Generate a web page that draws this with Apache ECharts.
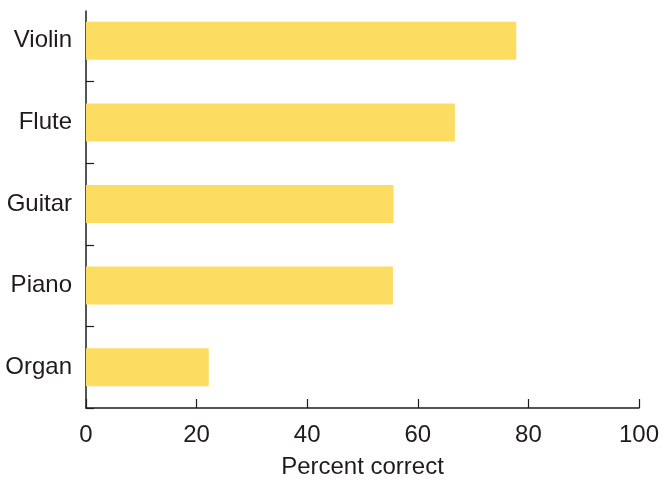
<!DOCTYPE html>
<html>
<head>
<meta charset="utf-8">
<script src="https://cdn.jsdelivr.net/npm/echarts@6/dist/echarts.min.js"></script>
<style>html,body{margin:0;padding:0;background:#fff}#c{width:670px;height:491px}</style>
</head>
<body>
<div id="c"></div>
<script>
const categories = ['Violin', 'Flute', 'Guitar', 'Piano', 'Organ'];
const percentCorrect = [77.8, 66.7, 55.6, 55.5, 22.2];
const xTicks = { min: 0, max: 100, interval: 20 };
const xName = 'Percent correct';

const ink = '#1f1b1c';
const font = 'Liberation Sans, Arial, sans-serif';
const chart = echarts.init(document.getElementById('c'), null, { renderer: 'canvas' });
chart.setOption({
  animation: false,
  grid: [
    { left: 86, right: 31, top: -3, bottom: 83 },
    { left: 86, right: 31, top: 11, bottom: 83 }
  ],
  xAxis: [
    {
      gridIndex: 0, type: 'value', min: xTicks.min, max: xTicks.max, interval: xTicks.interval,
      name: xName, nameLocation: 'middle', nameGap: 47,
      nameTextStyle: { color: ink, fontSize: 24, fontFamily: font },
      axisLine: { show: true, lineStyle: { color: ink, width: 1.5 } },
      axisTick: { show: true, inside: true, length: 9, lineStyle: { color: ink, width: 1.2 } },
      axisLabel: { color: ink, fontSize: 24, fontFamily: font, margin: 15 },
      splitLine: { show: false }
    },
    { gridIndex: 1, type: 'value', min: 0, max: 100, show: false }
  ],
  yAxis: [
    {
      gridIndex: 0, type: 'category', data: categories, inverse: true,
      axisLine: { show: false },
      axisTick: { show: true, inside: true, length: 8, interval: function (i) { return i !== 0; }, lineStyle: { color: ink, width: 1.2 } },
      axisLabel: { color: ink, fontSize: 24, fontFamily: font, margin: 14 }
    },
    {
      gridIndex: 1, type: 'value', min: 0, max: 1,
      axisLine: { show: true, onZero: false, lineStyle: { color: ink, width: 1.5 } },
      axisTick: { show: false }, axisLabel: { show: false }, splitLine: { show: false }
    }
  ],
  series: [{
    type: 'bar', xAxisIndex: 0, yAxisIndex: 0,
    data: percentCorrect, barWidth: 38,
    itemStyle: { color: '#fddc62' }
  }]
});
</script>
</body>
</html>
